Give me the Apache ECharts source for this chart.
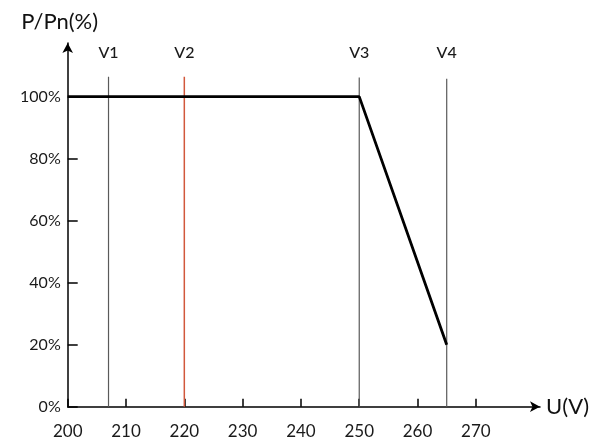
<!DOCTYPE html>
<html><head><meta charset="utf-8">
<script src="https://cdn.jsdelivr.net/npm/echarts@6/dist/echarts.min.js"></script>
<style>html,body{margin:0;padding:0;background:#fff}#c{width:595px;height:445px}</style>
</head><body><div id="c"></div>
<script>
// data
var xTicks = [200, 210, 220, 230, 240, 250, 260, 270];
var yTicks = [0, 20, 40, 60, 80, 100];
var curveU = [200, 250, 265];
var curveP = [100, 100, 20];
var vNames = ['V1', 'V2', 'V3', 'V4'];
var vU = [207, 220, 250, 265];
var vTop = [106.4, 106.4, 106.2, 105.8];
var vLabelLevel = 114;

var FONT = 'Lato, "Open Sans", sans-serif';
var series = [];
vU.forEach(function (u, i) {
  series.push({
    type: 'line', silent: true, symbol: 'none', z: 1,
    lineStyle: { color: i === 1 ? '#d2583c' : '#5a5a5a', width: i === 1 ? 1.5 : 1.2 },
    data: [[u, 0], [u, vTop[i]]]
  });
});
series.push({
  type: 'line', symbol: 'none', z: 3,
  lineStyle: { color: '#000', width: 2.8 },
  data: curveU.map(function (u, i) { return [u, curveP[i]]; })
});
series.push({
  type: 'scatter', symbolSize: 0, z: 4, silent: true,
  itemStyle: { opacity: 1 },
  label: { show: true, position: 'inside', formatter: function (p) { return vNames[p.dataIndex]; },
           fontFamily: FONT, fontSize: 16, color: '#1a1a1a', fontWeight: 500 },
  data: vU.map(function (u) { return [u, vLabelLevel]; })
});

var chart = echarts.init(document.getElementById('c'), null, { renderer: 'canvas' });
chart.setOption({
  animation: false,
  grid: { left: 67.7, right: 55, top: 43, bottom: 38.3, containLabel: false },
  xAxis: {
    type: 'value', min: 200, max: 281,
    name: 'U(V)', nameLocation: 'end', nameGap: 6,
    nameTextStyle: { fontFamily: FONT, fontSize: 22, color: '#111', verticalAlign: 'middle' },
    axisLine: { show: true, onZero: false, symbol: ['none', 'arrow'], symbolSize: [8, 10],
                lineStyle: { color: '#000', width: 1.5 } },
    axisTick: { show: true, inside: true, length: 8, customValues: xTicks, lineStyle: { color: '#000', width: 1.5 } },
    axisLabel: { show: true, customValues: xTicks, margin: 16, fontFamily: FONT, fontSize: 17, color: '#1a1a1a' },
    splitLine: { show: false }
  },
  yAxis: {
    type: 'value', min: 0, max: 117.3,
    name: 'P/Pn(%)', nameLocation: 'end', nameGap: 10,
    nameTextStyle: { fontFamily: FONT, fontSize: 22, color: '#111', align: 'center', padding: [0, 16, 0, 0] },
    axisLine: { show: true, onZero: false, symbol: ['none', 'arrow'], symbolSize: [8, 10],
                lineStyle: { color: '#000', width: 1.5 } },
    axisTick: { show: true, inside: true, length: 10, customValues: yTicks, lineStyle: { color: '#000', width: 1.5 } },
    axisLabel: { show: true, customValues: yTicks, margin: 7, fontFamily: FONT, fontSize: 16, color: '#1a1a1a',
                 formatter: function (v) { return v + '%'; } },
    splitLine: { show: false }
  },
  series: series
});
</script></body></html>
